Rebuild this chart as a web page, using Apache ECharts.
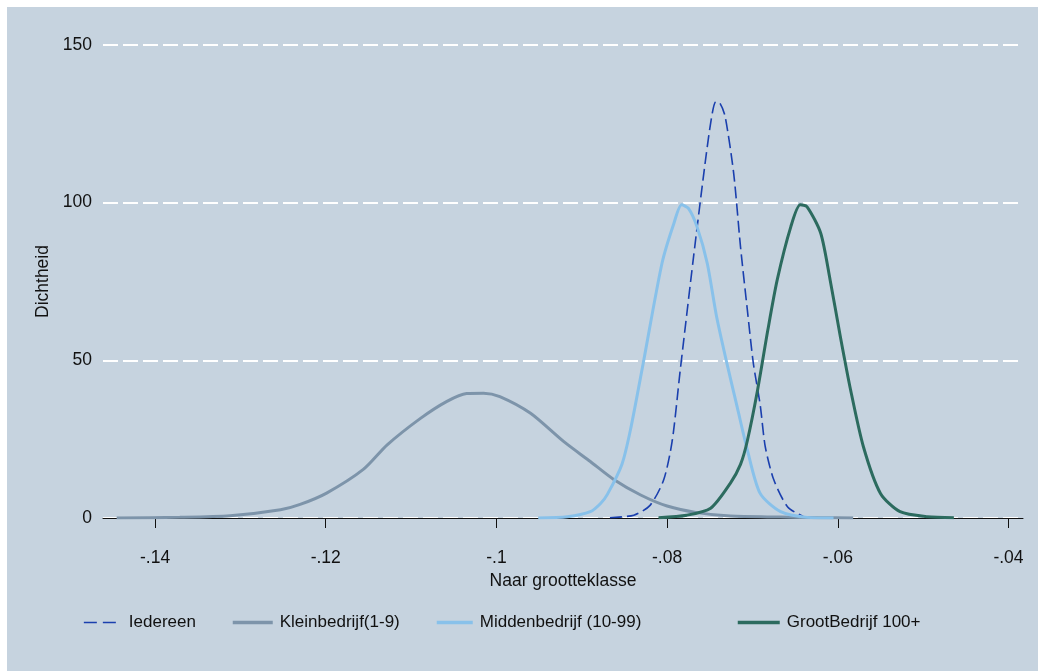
<!DOCTYPE html>
<html>
<head>
<meta charset="utf-8">
<script src="https://cdn.jsdelivr.net/npm/echarts@6/dist/echarts.min.js"></script>
<style>
html,body{margin:0;padding:0;background:#fff;}
#chart{width:1038px;height:671px;}
</style>
</head>
<body>
<div id="chart"></div>
<script>
// ---- data ----
const xTicks = [-0.14, -0.12, -0.10, -0.08, -0.06, -0.04];
const seriesNames = ['Iedereen', 'Kleinbedrijf(1-9)', 'Middenbedrijf (10-99)', 'GrootBedrijf 100+'];

const iedereenX = [-0.0867, -0.0839, -0.0820, -0.0804, -0.0794, -0.0785, -0.0769, -0.0757, -0.0749, -0.0743, -0.0738, -0.0732, -0.0722, -0.0714, -0.0706, -0.0699, -0.0691, -0.0685, -0.0675, -0.0659, -0.0640, -0.0632];
const iedereenY = [0.1, 0.9, 4.0, 12.1, 24.5, 46, 82.9, 109.3, 125.2, 132.0, 131.5, 127.3, 109.3, 86, 66, 49.1, 36, 22.6, 12.1, 3.6, 0.4, 0];

const kleinX = [-0.1445, -0.1371, -0.1312, -0.1253, -0.1230, -0.1199, -0.1156, -0.1128, -0.1089, -0.1058, -0.1035, -0.1015, -0.0996, -0.0960, -0.0921, -0.0890, -0.0863, -0.0831, -0.0800, -0.0765, -0.0726, -0.0667, -0.0620, -0.0582];
const kleinY = [0, 0.2, 0.7, 2.6, 4.3, 7.9, 15.4, 23.2, 31.6, 37.0, 39.5, 39.6, 38.5, 33.2, 24.2, 17.9, 12.3, 7.3, 3.8, 1.7, 0.6, 0.3, 0.1, 0];

const middenX = [-0.0951, -0.0917, -0.0890, -0.0878, -0.0870, -0.0853, -0.0843, -0.0828, -0.0806, -0.0792, -0.0783, -0.0775, -0.0765, -0.0753, -0.0742, -0.0730, -0.0718, -0.0706, -0.0691, -0.0667, -0.0636, -0.0605];
const middenY = [0, 0.4, 2.0, 4.6, 7.5, 17, 27.9, 49.1, 80.8, 93.5, 99.3, 98.2, 92.4, 80.8, 63.8, 49.1, 35.3, 21.6, 7.8, 2.0, 0.2, 0];

const grootX = [-0.0810, -0.0777, -0.0749, -0.0726, -0.0714, -0.0706, -0.0694, -0.0682, -0.0671, -0.0655, -0.0644, -0.0636, -0.0620, -0.0609, -0.0597, -0.0585, -0.0570, -0.0550, -0.0527, -0.0495, -0.0464];
const grootY = [0.1, 0.9, 3.1, 11.0, 17, 24.5, 40.6, 59.6, 75.5, 92.4, 99.3, 98.7, 90.3, 75.5, 57.5, 40.6, 22.6, 7.8, 2.0, 0.4, 0.1];

// ---- build ----
const zip = (xs, ys) => xs.map((x, i) => [x, ys[i]]);
const FONT = '"Liberation Sans", Arial, Helvetica, sans-serif';
const BG = '#c6d3df';
const fmtTick = v => {
  let s = String(+(+v).toFixed(2));
  return s.replace('0.', '.');
};

const colors = ['#1a3fae', '#7d94aa', '#88c1ea', '#2c6b5f'];

function lineSeries(name, data, color, width, dash) {
  return {
    name: name,
    type: 'line',
    data: data,
    symbol: 'none',
    showSymbol: false,
    smooth: 0.25,
    silent: true,
    animation: false,
    lineStyle: { color: color, width: width, type: dash || 'solid' },
    itemStyle: { color: color }
  };
}

function legendAt(name, left, width, lw, dash) {
  const ls = { width: lw };
  if (dash) ls.type = dash;
  return {
    data: [name],
    left: left,
    top: 609,
    itemWidth: width,
    itemHeight: 16,
    selectedMode: false,
    itemStyle: { opacity: 0 },
    lineStyle: ls,
    textStyle: { fontFamily: FONT, fontSize: 17, color: '#111', padding: [0, 0, 0, 2] }
  };
}

const chart = echarts.init(document.getElementById('chart'), null, { renderer: 'canvas' });
chart.setOption({
  animation: false,
  backgroundColor: BG,
  textStyle: { fontFamily: FONT },
  graphic: [
    { type: 'rect', shape: { x: 0, y: 0, width: 1038, height: 7 }, style: { fill: '#ffffff' }, silent: true },
    { type: 'rect', shape: { x: 0, y: 0, width: 7, height: 671 }, style: { fill: '#ffffff' }, silent: true }
  ],
  grid: { left: 103, right: 15, top: 45, bottom: 153, containLabel: false },
  xAxis: {
    type: 'value',
    min: -0.1461,
    max: -0.0383,
    offset: 14,
    name: 'Naar grootteklasse',
    nameLocation: 'middle',
    nameGap: 35,
    nameTextStyle: { fontFamily: FONT, fontSize: 17.5, color: '#111' },
    axisLine: { show: true, lineStyle: { color: '#111', width: 1 } },
    axisTick: { show: true, length: 10, customValues: xTicks, lineStyle: { color: '#111', width: 1 } },
    axisLabel: { customValues: xTicks, formatter: fmtTick, fontFamily: FONT, fontSize: 17.5, color: '#111', margin: 17 },
    splitLine: { show: false }
  },
  yAxis: {
    type: 'value',
    min: 0,
    max: 150,
    interval: 50,
    name: 'Dichtheid',
    nameLocation: 'middle',
    nameGap: 50,
    nameTextStyle: { fontFamily: FONT, fontSize: 17.5, color: '#111' },
    axisLine: { show: false },
    axisTick: { show: false },
    axisLabel: { fontFamily: FONT, fontSize: 17.5, color: '#111', margin: 11 },
    splitLine: { show: true, lineStyle: { color: '#ffffff', width: 2, type: [15, 5] } }
  },
  legend: [
    legendAt(seriesNames[0], 78, 38, 1.7, [13, 6]),
    legendAt(seriesNames[1], 226, 40, 3.5),
    legendAt(seriesNames[2], 430, 36, 3.5),
    legendAt(seriesNames[3], 731, 42, 3.5)
  ],
  series: [
    lineSeries(seriesNames[0], zip(iedereenX, iedereenY), colors[0], 1.6, [12, 5]),
    lineSeries(seriesNames[1], zip(kleinX, kleinY), colors[1], 3),
    lineSeries(seriesNames[2], zip(middenX, middenY), colors[2], 3),
    lineSeries(seriesNames[3], zip(grootX, grootY), colors[3], 3)
  ]
});
</script>
</body>
</html>
